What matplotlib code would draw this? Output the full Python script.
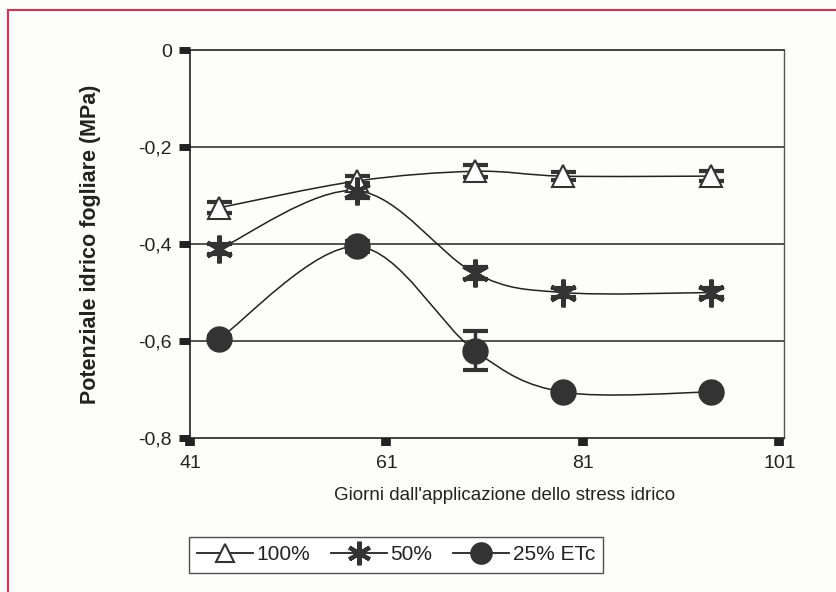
import numpy as np
import matplotlib.pyplot as plt
from matplotlib.path import Path
from matplotlib.patches import PathPatch, Rectangle
from matplotlib.lines import Line2D

plt.rcParams['font.family'] = ['Liberation Sans', 'DejaVu Sans']

# giorni dall'applicazione dello stress
giorni = [44, 58, 70, 79, 94]

pot_100 = [-0.325, -0.27, -0.25, -0.26, -0.26]
err_100 = [0.012, 0.01, 0.012, 0.008, 0.01]

pot_50 = [-0.41, -0.29, -0.46, -0.50, -0.50]
err_50 = [0.01, 0.015, 0.012, 0.01, 0.01]

pot_25 = [-0.595, -0.405, -0.62, -0.705, -0.705]
err_25 = [0.006, 0.012, 0.04, 0.005, 0.005]

etichette = ["100%", "50%", "25% ETc"]
y_ticks = [0, -0.2, -0.4, -0.6, -0.8]
y_labels = ["0", "-0,2", "-0,4", "-0,6", "-0,8"]
x_ticks = [41, 61, 81, 101]

grigio = "#333333"


def curva_liscia(x, y):
    # linea smussata stile foglio di calcolo (bezier cubiche)
    x = np.asarray(x, float)
    y = np.asarray(y, float)
    n = len(x)
    verts = [(x[0], y[0])]
    codes = [Path.MOVETO]
    for i in range(n - 1):
        x0, y0 = (x[i - 1], y[i - 1]) if i > 0 else (x[i], y[i])
        x3, y3 = (x[i + 2], y[i + 2]) if i + 2 < n else (x[i + 1], y[i + 1])
        c1 = (x[i] + (x[i + 1] - x0) / 6, y[i] + (y[i + 1] - y0) / 6)
        c2 = (x[i + 1] - (x3 - x[i]) / 6, y[i + 1] - (y3 - y[i]) / 6)
        verts += [c1, c2, (x[i + 1], y[i + 1])]
        codes += [Path.CURVE4] * 3
    return Path(verts, codes)


fig = plt.figure(figsize=(8.37, 5.92), dpi=100, facecolor="#fdfdfb")
ax = fig.add_axes([0.227, 0.26, 0.71, 0.6555])
ax.set_facecolor("none")

for y in [-0.2, -0.4, -0.6]:
    ax.axhline(y, color="#222222", lw=1.1, zorder=1)

serie = [
    (pot_100, err_100, dict(marker="^", ms=16, mfc="white", mec=grigio, mew=1.5)),
    (pot_50, err_50, dict(marker=(6, 2, 0), ms=20, mfc=grigio, mec=grigio, mew=3)),
    (pot_25, err_25, dict(marker="o", ms=18, mfc=grigio, mec=grigio, mew=1)),
]

handles = []
for valori, errori, stile in serie:
    ax.add_patch(PathPatch(curva_liscia(giorni, valori), fill=False,
                           ec="#222222", lw=1.1, zorder=2))
    ax.errorbar(giorni, valori, yerr=errori, fmt="none", ecolor=grigio,
                elinewidth=2.5, capsize=9, capthick=3, zorder=3)
    ax.plot(giorni, valori, ls="none", zorder=4, **stile)
    handles.append(Line2D([], [], color="#222222", lw=1.3, **stile))

ax.set_xlim(41, 101.5)
ax.set_ylim(-0.8, 0)
ax.set_xticks(x_ticks)
ax.set_yticks(y_ticks)
ax.set_yticklabels(y_labels)
ax.tick_params(axis="y", direction="out", length=8, width=5, color="#222222",
               labelsize=14, pad=5, labelcolor="#222222")
ax.tick_params(axis="x", direction="out", length=6, width=7, color="#222222",
               labelsize=14, pad=6, labelcolor="#222222")

for lato in ["left", "bottom", "top"]:
    ax.spines[lato].set_color("#222222")
    ax.spines[lato].set_linewidth(1.2)
ax.spines["right"].set_color("#555555")
ax.spines["right"].set_linewidth(1.0)

ax.set_xlabel("Giorni dall'applicazione dello stress idrico", fontsize=13.5,
              color="#222222")
ax.xaxis.set_label_coords(0.529, -0.125)
ax.set_ylabel("Potenziale idrico fogliare (MPa)", fontsize=15.5,
              fontweight="bold", labelpad=27, color="#222222")

leg = fig.legend(handles, etichette, loc="center", bbox_to_anchor=(0.473, 0.0625),
                 ncol=3, fontsize=15, frameon=True, fancybox=False,
                 edgecolor="#222222", handlelength=2.7, handletextpad=0.15,
                 columnspacing=1.0, borderpad=0.4, markerscale=0.85,
                 labelcolor="#222222")
leg.get_frame().set_linewidth(1.0)

# cornice della pagina
fig.add_artist(Rectangle((8 / 837, -0.05), 1.2, 1 - 10 / 592 + 0.05,
                         transform=fig.transFigure, fill=False,
                         ec="#b8405f", lw=1.6))

fig.savefig("out.png", dpi=100, facecolor=fig.get_facecolor())
